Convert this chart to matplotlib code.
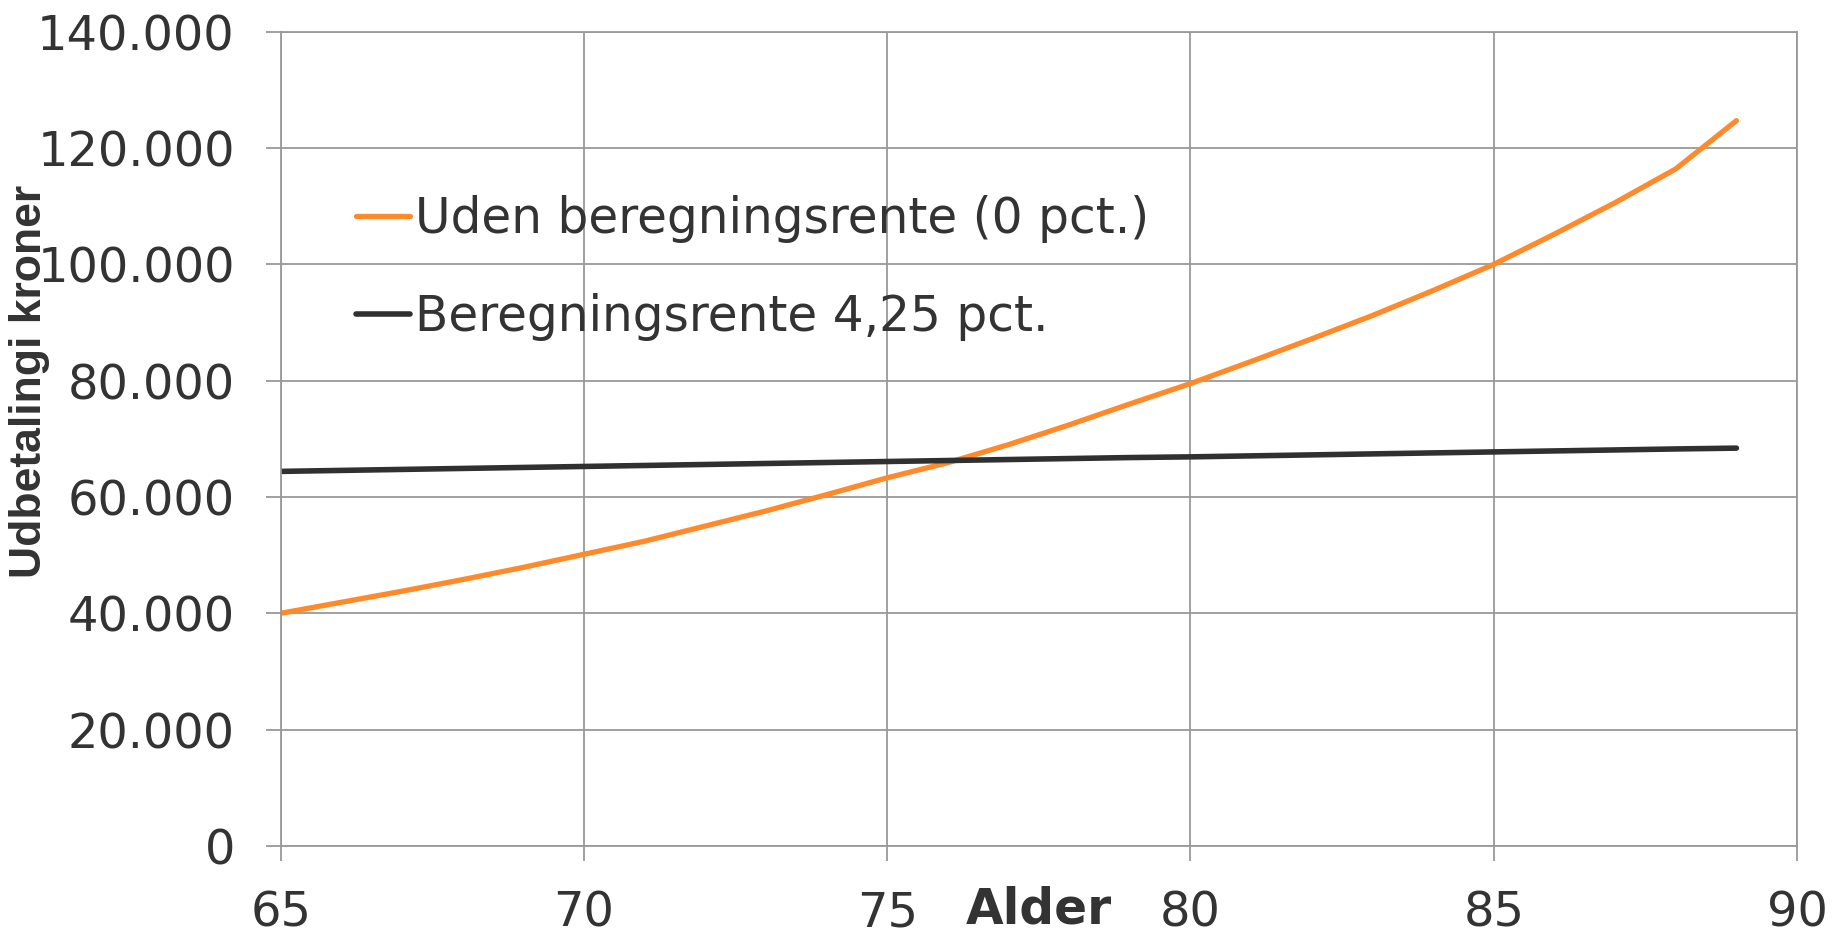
import numpy as np
import matplotlib
matplotlib.use("Agg")
from matplotlib import pyplot as plt, ticker

# Data
ages = [65, 66, 67, 68, 69, 70, 71, 72, 73, 74, 75, 76, 77,
        78, 79, 80, 81, 82, 83, 84, 85, 86, 87, 88, 89]
uden_rente = [40000, 41900, 43800, 45800, 47900, 50150, 52400, 55000, 57600,
              60400, 63300, 65900, 69000, 72400, 76000, 79500, 83300, 87200,
              91200, 95500, 100000, 105200, 110600, 116400, 124700]
rente_425 = [64400, 64570, 64740, 64910, 65080, 65250, 65420, 65590, 65760,
             65930, 66100, 66270, 66440, 66610, 66780, 66900, 67070, 67240,
             67410, 67580, 67750, 67920, 68090, 68260, 68400]

labels = ["Uden beregningsrente (0 pct.)", "Beregningsrente 4,25 pct."]
xticks = [65, 70, 75, 80, 85, 90]
yticks = [0, 20000, 40000, 60000, 80000, 100000, 120000, 140000]

text_color = "#333333"
grid_color = "#999999"

fig = plt.figure(figsize=(18.33, 9.31), dpi=100)
ax = fig.add_axes([0.1531, 0.0913, 0.8273, 0.8747])

ax.plot(ages, uden_rente, color="#FF8A2B", linewidth=3.8, label=labels[0],
        solid_capstyle="round")
ax.plot(ages, rente_425, color="#303030", linewidth=4.0, label=labels[1],
        solid_capstyle="round")

ax.set_xlim(65, 90)
ax.set_ylim(0, 140000)
ax.set_xticks(xticks)
ax.set_yticks(yticks)
ax.yaxis.set_major_formatter(
    ticker.FuncFormatter(lambda v, p: f"{int(v):,}".replace(",", ".")))

ax.grid(True, color=grid_color, linewidth=1.3)
ax.set_axisbelow(True)
for sp in ax.spines.values():
    sp.set_color(grid_color)
    sp.set_linewidth(1.3)

ax.tick_params(axis="both", which="major", length=11, width=1.3,
               color=grid_color, labelsize=34.5, labelcolor=text_color)
ax.tick_params(axis="y", pad=22)
ax.tick_params(axis="x", pad=20)

ax.set_xlabel("Alder", fontsize=35, fontweight="bold", color=text_color)
ax.xaxis.set_label_coords(0.5, -0.048)
ax.set_ylabel("Udbetalingi kroner", fontsize=32, fontweight="bold",
              color=text_color, family="Liberation Sans")
ax.yaxis.set_label_coords(-0.152, 0.57)

ax.legend(loc="upper left", bbox_to_anchor=(0.050, 0.799), frameon=False,
          fontsize=35, handlelength=1.11, handletextpad=0.1,
          labelspacing=1.02, borderpad=0, borderaxespad=0,
          labelcolor=text_color)

fig.savefig("out.png", dpi=100)
